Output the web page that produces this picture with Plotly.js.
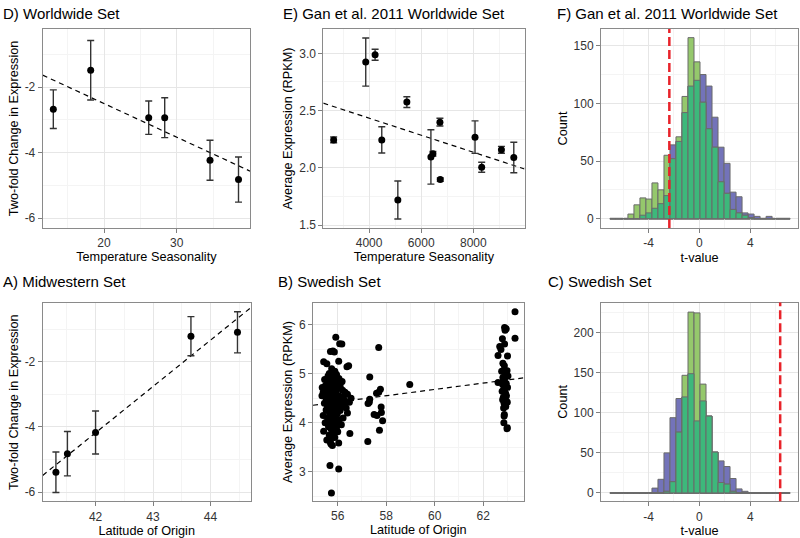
<!DOCTYPE html>
<html>
<head>
<meta charset="utf-8">
<script src="https://cdn.plot.ly/plotly-3.0.1.min.js"></script>
<style>
  body { margin: 0; background: #fff; }
  #chart { width: 800px; height: 538px; }
</style>
</head>
<body>
<div id="chart"></div>
<script>
// D) Worldwide set
const dTemp = [13.03, 18.17, 26.15, 28.35, 34.58, 38.5];
const dChange = [-2.67, -1.48, -2.93, -2.93, -4.23, -4.82];
const dErr = [0.59, 0.91, 0.51, 0.61, 0.61, 0.69];
const dFit = [-0.441, -0.1028]; // intercept, slope

// E) Gan et al. 2011 worldwide set
const eTemp = [2641, 3872, 4231, 4487, 5103, 5449, 6372, 6449, 6718, 6731, 8064, 8320, 9077, 9551];
const eExpr = [2.244, 2.924, 2.988, 2.244, 1.719, 2.574, 2.095, 2.122, 2.399, 1.897, 2.268, 2.005, 2.157, 2.090];
const eErr = [0.025, 0.21, 0.048, 0.115, 0.166, 0.047, 0.237, 0.02, 0.034, 0.015, 0.142, 0.044, 0.03, 0.133];
const eFit = [2.732, -0.0000745];

// A) Midwestern set
const aLat = [41.31, 41.51, 42.0, 43.66, 44.47];
const aChange = [-5.39, -4.82, -4.17, -1.22, -1.10];
const aErr = [0.62, 0.68, 0.66, 0.6, 0.63];
const aFit = [-63.82, 1.42];

// B) Swedish set
const bLat = [
  55.92, 56.08, 56.17, 55.70, 55.86, 55.80, 55.42, 55.55, 56.04, 56.38, 56.45, 55.75, 55.88, 55.65, 55.95,
  55.60, 55.83, 56.05, 55.70, 55.55, 55.78, 55.90, 56.10, 55.48, 55.65, 56.00, 55.85, 55.72, 56.20, 55.40,
  55.58, 55.92, 56.30, 56.40, 55.78, 55.66, 55.35, 56.05, 55.50, 55.88, 56.55, 55.74, 56.15, 55.62, 55.95,
  56.48, 55.82, 55.45, 56.25, 55.70, 56.02, 55.58, 55.90, 56.35, 55.76, 55.52, 56.10, 55.84, 55.66, 55.98,
  56.40, 55.40, 55.74, 55.58, 55.90, 56.05, 55.68, 55.48, 55.80, 56.15, 55.62, 55.95, 55.72, 56.50, 55.42,
  56.00, 55.85, 55.65, 55.78, 55.55, 55.70, 56.04, 55.78, 55.72, 55.68, 56.04, 55.74,
  55.60, 55.95, 56.12, 55.82, 55.68, 55.52, 56.22, 56.28, 55.98, 55.86, 55.76, 55.62, 56.18, 55.46,
  55.88, 55.72, 56.08, 55.56, 55.80, 56.22, 55.92, 55.66, 55.88, 55.60, 55.36,
  57.69, 57.32, 57.76, 57.69, 57.32, 57.25, 57.79, 57.50, 57.62, 57.80, 57.85, 57.72, 57.24, 57.60, 57.30,
  58.97,
  63.31, 62.88, 62.95, 62.90, 63.31, 62.79, 62.88, 62.68, 62.73, 62.61, 63.00, 62.81, 62.87, 62.98, 62.91,
  62.81, 62.86, 62.61, 62.84, 62.95, 62.80, 62.90, 63.00, 62.85, 62.78, 62.92, 62.96, 62.83, 62.88, 62.80,
  62.94, 62.99, 62.86, 62.90, 62.93, 62.84, 62.87, 62.86, 62.85, 62.99, 62.98, 62.88, 63.02, 62.76
];
const bExpr = [
  5.74, 5.61, 5.60, 5.45, 5.44, 5.46, 5.24, 5.20, 5.25, 5.14, 5.16, 5.10, 5.05, 5.00, 4.98,
  4.95, 4.93, 4.90, 4.88, 4.85, 4.82, 4.80, 4.78, 4.75, 4.74, 4.72, 4.70, 4.68, 4.66, 4.62,
  4.60, 4.62, 4.62, 4.58, 4.57, 4.55, 4.55, 4.55, 4.52, 4.51, 4.50, 4.48, 4.47, 4.45, 4.44,
  4.42, 4.40, 4.40, 4.38, 4.36, 4.35, 4.33, 4.32, 4.30, 4.28, 4.26, 4.25, 4.22, 4.20, 4.18,
  4.20, 4.15, 4.14, 4.10, 4.08, 4.05, 4.02, 4.00, 3.98, 3.96, 3.92, 3.90, 3.88, 3.78, 3.83,
  3.82, 3.78, 3.75, 3.70, 3.65, 3.60, 3.59, 3.54, 3.57, 3.13, 3.06, 2.57,
  4.80, 4.86, 4.70, 4.64, 4.72, 4.68, 4.52, 4.46, 4.40, 4.58, 4.90, 4.92, 4.84, 4.88,
  4.36, 4.30, 4.30, 4.48, 4.12, 4.10, 4.00, 3.98, 3.70, 4.30, 4.72,
  5.53, 4.93, 4.68, 4.62, 4.48, 4.39, 4.32, 4.17, 4.15, 4.21, 4.04, 3.85, 3.62, 4.60, 4.42,
  4.78,
  6.26, 5.94, 5.91, 5.88, 5.72, 5.71, 5.60, 5.55, 5.49, 5.37, 5.36, 5.21, 5.16, 5.06, 4.98,
  4.92, 4.88, 4.82, 4.85, 4.80, 4.78, 4.74, 4.72, 4.68, 4.64, 4.60, 4.55, 4.52, 4.50, 4.47,
  4.45, 4.42, 4.40, 4.36, 4.33, 4.30, 4.17, 4.14, 4.00, 3.90, 3.88, 4.90, 4.95, 5.05
];
const bFit = [0.827, 0.0642];

// histograms: 30 bins shared by F and C
const binStart = -7.03;
const binWidth = 0.472;
const fBlue = [0, 0, 0, 0, 0, 3, 5, 9, 13, 20, 64, 67, 92, 115, 120, 125, 115, 88, 62, 48, 23, 19, 5, 4, 2, 0, 2, 0, 0, 0];
const fGreen = [0, 0, 0, 4, 12, 18, 17, 31, 25, 55, 52, 71, 106, 157, 136, 101, 78, 62, 32, 22, 8, 5, 3, 1, 0, 0, 0, 0, 0, 0];
const fCutoff = -2.36;
const cBlue = [0, 0, 0, 0, 0, 0, 0, 6, 17, 50, 94, 118, 120, 149, 90, 115, 96, 51, 40, 33, 18, 5, 2, 0, 0, 0, 0, 0, 0, 0];
const cGreen = [0, 0, 0, 0, 0, 0, 0, 0, 0, 2, 14, 76, 147, 226, 225, 136, 96, 51, 13, 11, 2, 0, 0, 0, 0, 0, 0, 0, 0, 0];
const cCutoff = 6.35;

const negTicks = [-6, -4, -2];
const negTickText = ["-6", "-4", "-2"];
const tTicks = [-4, 0, 4];
const tTickText = ["-4", "0", "4"];
const dTicks = [20, 30];

const FONT = "Liberation Sans, Arial, Helvetica, sans-serif";
const BLUE = "#7373b9";
const GREEN = "#95c86c";
const BOTH = "#3db87b";
const OUTLINE = "#6b6b6b";

const binCenters = fBlue.map((_, i) => binStart + (i + 0.5) * binWidth);

function fitLine(fit, range, xa, ya) {
  return {
    x: range, y: range.map(v => fit[0] + fit[1] * v),
    xaxis: xa, yaxis: ya, mode: "lines", hoverinfo: "skip",
    line: { color: "#000", width: 1.2, dash: "5px,4px" }
  };
}

function points(x, y, err, xa, ya, size) {
  const t = {
    x: x, y: y, xaxis: xa, yaxis: ya, mode: "markers", type: "scatter",
    marker: { color: "#000", size: size }
  };
  if (err) t.error_y = { type: "data", array: err, color: "#333", thickness: 1.4, width: 3.5 };
  return t;
}

function hist(blue, green, xa, ya) {
  const both = blue.map((b, i) => Math.min(b, green[i]));
  const common = { x: binCenters, width: binWidth, xaxis: xa, yaxis: ya, type: "bar", hoverinfo: "y" };
  return [
    Object.assign({}, common, { y: blue, marker: { color: BLUE, line: { color: OUTLINE, width: 1 } } }),
    Object.assign({}, common, { y: green, marker: { color: GREEN, line: { color: OUTLINE, width: 1 } } }),
    Object.assign({}, common, { y: both, marker: { color: BOTH, line: { color: OUTLINE, width: 1 } } })
  ];
}

const rD = { x: [11.57, 40.08], y: [-6.29, -0.23] };
const rE = { x: [2244, 9962], y: [1.477, 3.21] };
const rF = { x: [-7.73, 7.75], y: [-8.1, 164.5] };
const rA = { x: [41.08, 44.70], y: [-6.28, -0.21] };
const rB = { x: [54.98, 63.66], y: [2.42, 6.43] };
const rC = { x: [-7.73, 7.75], y: [-10.5, 238] };

const traces = [].concat(
  [fitLine(dFit, rD.x, "x", "y"), points(dTemp, dChange, dErr, "x", "y", 7)],
  [fitLine(eFit, rE.x, "x2", "y2"), points(eTemp, eExpr, eErr, "x2", "y2", 7)],
  hist(fBlue, fGreen, "x3", "y3"),
  [fitLine(aFit, rA.x, "x4", "y4"), points(aLat, aChange, aErr, "x4", "y4", 7)],
  [points(bLat, bExpr, null, "x5", "y5", 7), fitLine(bFit, rB.x, "x5", "y5")],
  hist(cBlue, cGreen, "x6", "y6")
);

function ax(domain, range, title, standoff, extra) {
  return Object.assign({
    domain: domain, range: range, automargin: false,
    showline: true, mirror: true, linecolor: "#8a8a8a", linewidth: 1,
    ticks: "outside", ticklen: 4, tickcolor: "#7f7f7f", tickwidth: 1,
    tickfont: { family: FONT, size: 12, color: "#333" },
    showgrid: true, gridcolor: "#e6e6e6", gridwidth: 1, zeroline: false,
    title: { text: title, font: { family: FONT, size: 12.7, color: "#000" }, standoff: standoff }
  }, extra);
}

function minor(d) { return { dtick: d, showgrid: true, gridcolor: "#f4f4f4", gridwidth: 1 }; }

const px = v => v / 800;
const py = v => 1 - v / 538;

const layout = {
  width: 800, height: 538,
  margin: { l: 0, r: 0, t: 0, b: 0 },
  paper_bgcolor: "#fff", plot_bgcolor: "#fff",
  showlegend: false, barmode: "overlay", bargap: 0,
  font: { family: FONT },
  xaxis: ax([px(42.7), px(250)], rD.x, "Temperature Seasonality", 3, { anchor: "y", tickmode: "array", tickvals: dTicks, minor: Object.assign(minor(5), { tick0: 0 }) }),
  yaxis: ax([py(227.7), py(29.3)], rD.y, "Two-fold Change in Expression", 3, { anchor: "x", tickmode: "array", tickvals: negTicks, ticktext: negTickText, minor: minor(1) }),
  xaxis2: ax([px(323.3), px(524.5)], rE.x, "Temperature Seasonality", 3, { anchor: "y2", dtick: 2000, tick0: 0, tickformat: "d", minor: minor(1000) }),
  yaxis2: ax([py(227.7), py(29.3)], rE.y, "Average Expression (RPKM)", 3, { anchor: "x2", dtick: 0.5, tick0: 0, tickformat: ".1f", minor: minor(0.25) }),
  xaxis3: ax([px(601), px(798)], rF.x, "t-value", 3, { anchor: "y3", tickmode: "array", tickvals: tTicks, ticktext: tTickText, minor: Object.assign(minor(2), { tick0: 0 }) }),
  yaxis3: ax([py(228), py(29)], rF.y, "Count", 3, { anchor: "x3", dtick: 50, tick0: 0, minor: minor(25) }),
  xaxis4: ax([px(42.7), px(250.7)], rA.x, "Latitude of Origin", 3, { anchor: "y4", dtick: 1, tick0: 0, minor: minor(0.5) }),
  yaxis4: ax([py(501.3), py(303.3)], rA.y, "Two-fold Change in Expression", 3, { anchor: "x4", tickmode: "array", tickvals: negTicks, ticktext: negTickText, minor: minor(1) }),
  xaxis5: ax([px(313), px(523.5)], rB.x, "Latitude of Origin", 3, { anchor: "y5", dtick: 2, tick0: 0, minor: minor(1) }),
  yaxis5: ax([py(500.5), py(303.3)], rB.y, "Average Expression (RPKM)", 3, { anchor: "x5", dtick: 1, tick0: 0, minor: minor(0.5) }),
  xaxis6: ax([px(601), px(798)], rC.x, "t-value", 3, { anchor: "y6", tickmode: "array", tickvals: tTicks, ticktext: tTickText, minor: Object.assign(minor(2), { tick0: 0 }) }),
  yaxis6: ax([py(501.3), py(302.5)], rC.y, "Count", 3, { anchor: "x6", dtick: 50, tick0: 0, minor: minor(25) }),
  shapes: [
    { type: "line", xref: "x3", yref: "y3", x0: binStart, x1: binStart + fBlue.length * binWidth, y0: 0, y1: 0, line: { color: "#7a7a7a", width: 2 }, layer: "below" },
    { type: "line", xref: "x6", yref: "y6", x0: binStart, x1: binStart + cBlue.length * binWidth, y0: 0, y1: 0, line: { color: "#7a7a7a", width: 2 }, layer: "below" },
    { type: "line", xref: "x3", yref: "y3 domain", x0: fCutoff, x1: fCutoff, y0: 0, y1: 1, line: { color: "#e8232a", width: 2.5, dash: "9px,4px" } },
    { type: "line", xref: "x6", yref: "y6 domain", x0: cCutoff, x1: cCutoff, y0: 0, y1: 1, line: { color: "#e8232a", width: 2.5, dash: "9px,4px" } }
  ],
  annotations: [
    ["D) Worldwide Set", 1, 14],
    ["E) Gan et al. 2011 Worldwide Set", 281, 14],
    ["F) Gan et al. 2011 Worldwide Set", 555, 14],
    ["A) Midwestern Set", 1, 281],
    ["B) Swedish Set", 276, 281],
    ["C) Swedish Set", 546, 281]
  ].map(a => ({
    text: a[0], xref: "paper", yref: "paper", x: px(a[1]), y: py(a[2]),
    xanchor: "left", yanchor: "middle", showarrow: false,
    font: { family: FONT, size: 15, color: "#000" }
  }))
};

Plotly.newPlot("chart", traces, layout, { staticPlot: true, displayModeBar: false });
</script>
</body>
</html>
